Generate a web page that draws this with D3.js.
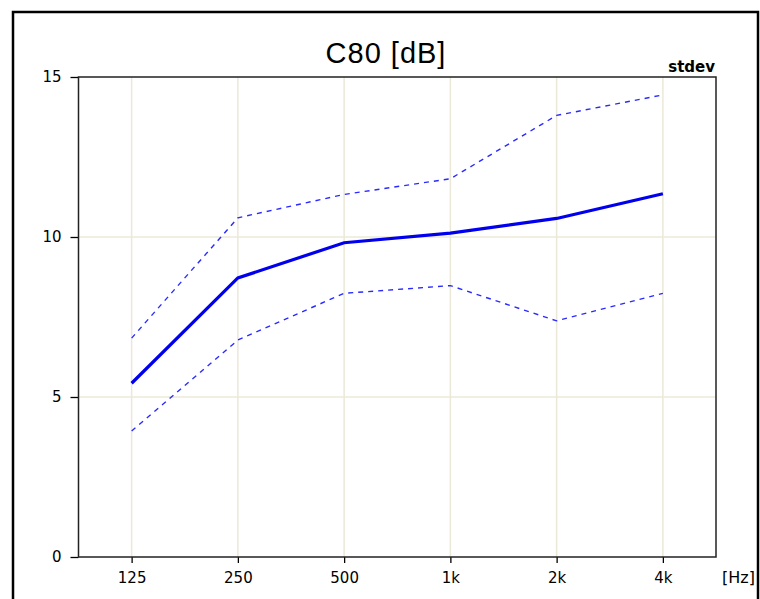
<!DOCTYPE html>
<html>
<head>
<meta charset="utf-8">
<script src="https://cdnjs.cloudflare.com/ajax/libs/d3/7.8.5/d3.min.js"></script>
<style>
  body { margin: 0; background: #fff; }
</style>
</head>
<body>
<svg id="chart" width="760" height="599"></svg>
<script>
// C80 per octave band
const bands = ["125", "250", "500", "1k", "2k", "4k"];
const c80 = [5.43, 8.72, 9.82, 10.12, 10.58, 11.35];
const c80Upper = [6.84, 10.6, 11.33, 11.82, 13.8, 14.44];
const c80Lower = [3.94, 6.78, 8.24, 8.48, 7.38, 8.24];
const yTicks = [0, 5, 10, 15];

(function(){
    let svg = d3.select("#chart");
    let sans = "'Liberation Sans', Arial, sans-serif";
    let wide = "'DejaVu Sans', Verdana, sans-serif";

    // outer frame
    svg.append("rect")
        .attr("x", 13).attr("y", 12)
        .attr("width", 745).attr("height", 600)
        .attr("fill", "none")
        .attr("stroke", "#000")
        .attr("stroke-width", 2.5);

    let left = 78.5, right = 716, top = 77, bottom = 557;

    let x = d3.scalePoint()
        .domain(bands)
        .range([left, right])
        .padding(0.5);

    let y = d3.scaleLinear()
        .domain([0, 15])
        .range([bottom, top]);

    // grid
    let grid = svg.append("g").attr("stroke", "#ece8d8").attr("stroke-width", 1.5);
    grid.selectAll(".vg").data(bands).join("line")
        .attr("x1", d => x(d)).attr("x2", d => x(d))
        .attr("y1", top).attr("y2", bottom);
    grid.selectAll(".hg").data(yTicks.slice(1, -1)).join("line")
        .attr("x1", left).attr("x2", right)
        .attr("y1", d => y(d)).attr("y2", d => y(d));

    // x axis
    let xAxis = svg.append("g")
        .attr("transform", `translate(0,${bottom})`)
        .call(d3.axisBottom(x).tickSize(6).tickPadding(9));
    xAxis.select(".domain").remove();

    // y axis
    let yAxis = svg.append("g")
        .attr("transform", `translate(${left},0)`)
        .call(d3.axisLeft(y).tickValues(yTicks).tickSize(8).tickPadding(9));
    yAxis.select(".domain").remove();

    svg.selectAll(".tick line").attr("stroke", "#000").attr("stroke-width", 1.3);
    svg.selectAll(".tick text")
        .attr("font-size", 15)
        .style("font-family", wide)
        .attr("fill", "#000");

    // plot frame
    svg.append("rect")
        .attr("x", left).attr("y", top)
        .attr("width", right - left).attr("height", bottom - top)
        .attr("fill", "none")
        .attr("stroke", "#222")
        .attr("stroke-width", 1.5);

    let line = d3.line()
        .x((d, i) => x(bands[i]))
        .y(d => y(d));

    // stdev lines
    [c80Upper, c80Lower].forEach(s => {
        svg.append("path")
            .datum(s)
            .attr("d", line)
            .attr("fill", "none")
            .attr("stroke", "#2a2aff")
            .attr("stroke-width", 1.4)
            .attr("stroke-dasharray", "5,5");
    });

    svg.append("path")
        .datum(c80)
        .attr("d", line)
        .attr("fill", "none")
        .attr("stroke", "#0000ee")
        .attr("stroke-width", 3.2);

    // labels
    svg.append("text")
        .attr("x", 386).attr("y", 63)
        .attr("text-anchor", "middle")
        .style("font-family", sans)
        .attr("font-size", 29)
        .attr("letter-spacing", 1)
        .text("C80 [dB]");

    svg.append("text")
        .attr("x", 715).attr("y", 72)
        .attr("text-anchor", "end")
        .style("font-family", wide)
        .attr("font-size", 15)
        .attr("font-weight", "bold")
        .text("stdev");

    svg.append("text")
        .attr("x", 722).attr("y", 583)
        .style("font-family", wide)
        .attr("font-size", 16)
        .text("[Hz]");
})();
</script>
</body>
</html>
